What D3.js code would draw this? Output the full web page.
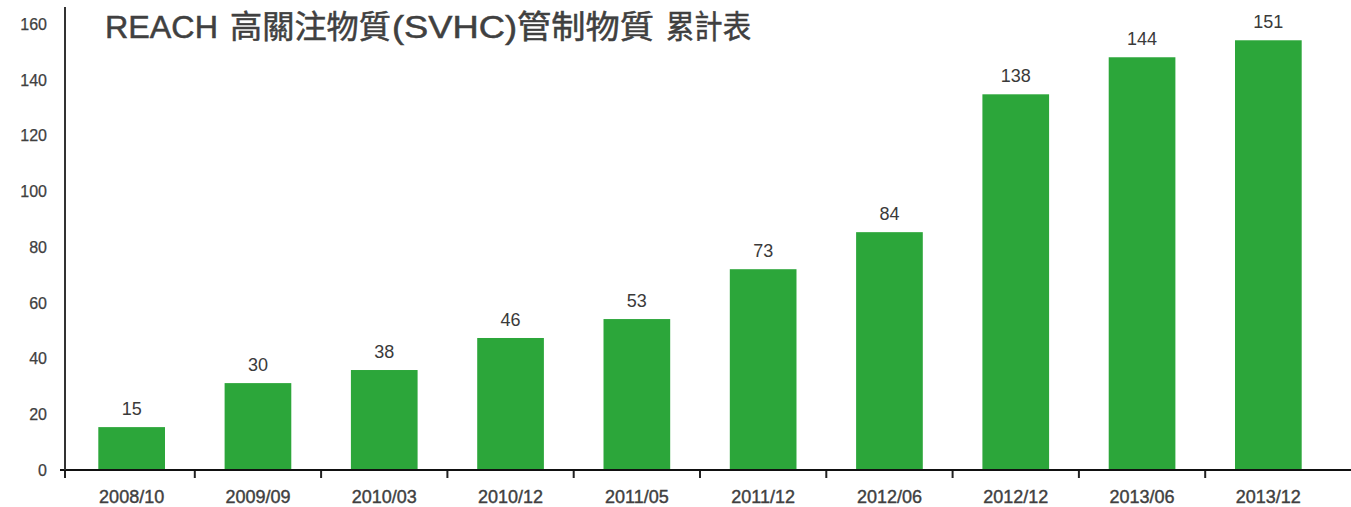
<html>
<head>
  <title>REACH SVHC</title>
  <meta charset="utf-8" />
  <script src="https://cdnjs.cloudflare.com/ajax/libs/d3/7.8.5/d3.min.js"></script>
  <style>
    body { margin: 0; background: #fff; }
    text { font-family: "Liberation Sans", Arial, "Noto Sans CJK TC", sans-serif; }
  </style>
</head>
<body>
  <svg width="1351" height="507"></svg>
<script>

  // title pieces: latin and CJK runs are set separately so their widths match
  var titleParts = ["REACH", "高關注物質", "(SVHC)", "管制物質", "累計表"];
  var titleSpans = [[105, 113], [230, 161], [392, 125], [517, 137], [666, 85]];
  var titleCJK   = [false, true, false, true, true];

  var dates  = ["2008/10", "2009/09", "2010/03", "2010/12", "2011/05",
                "2011/12", "2012/06", "2012/12", "2013/06", "2013/12"];
  // numbers printed above the bars
  var labels = [15, 30, 38, 46, 53, 73, 84, 138, 144, 151];
  // bar heights as drawn in the picture (they don't quite follow the labels)
  var bars   = [15.4, 31.2, 35.9, 47.4, 54.2, 72.1, 85.4, 134.9, 148.2, 154.3];
  var yTicks = [0, 20, 40, 60, 80, 100, 120, 140, 160];

  var svg = d3.select("svg");
  var x0 = 65, baseY = 470;

  var xScale = d3.scaleBand().domain(dates).range([68.5, 1331.5])
                 .paddingInner(0.472).paddingOuter(0.236);
  var yScale = d3.scaleLinear().domain([0, 160]).range([baseY, 24.4]);

  // bars
  svg.append("g").selectAll("rect")
    .data(dates).enter()
    .append("rect")
      .attr("x", d => xScale(d))
      .attr("width", xScale.bandwidth())
      .attr("y", (d, i) => yScale(bars[i]))
      .attr("height", (d, i) => baseY - yScale(bars[i]))
      .attr("fill", "#2ca63a");

  // value labels
  svg.append("g").selectAll("text")
    .data(dates).enter()
    .append("text")
      .attr("x", d => xScale(d) + xScale.bandwidth() / 2)
      .attr("y", (d, i) => yScale(bars[i]) - 12)
      .attr("text-anchor", "middle")
      .attr("font-size", 18)
      .attr("fill", "#3a3a3a")
      .text((d, i) => labels[i]);

  // y axis labels
  svg.append("g").selectAll("text")
    .data(yTicks).enter()
    .append("text")
      .attr("x", 47)
      .attr("y", d => yScale(d))
      .attr("dy", "0.35em")
      .attr("text-anchor", "end")
      .attr("font-size", 16)
      .attr("fill", "#404040")
      .attr("stroke", "#404040").attr("stroke-width", 0.25)
      .text(d => d);

  // x axis: line, boundary ticks, labels
  var step = xScale.step();
  var bounds = dates.map(d => xScale(d) - xScale.paddingInner() * step / 2);
  bounds[0] = x0;
  svg.append("g").selectAll("line")
    .data(bounds).enter()
    .append("line")
      .attr("x1", d => d).attr("x2", d => d)
      .attr("y1", baseY).attr("y2", baseY + 8)
      .attr("stroke", "#222").attr("stroke-width", 2);

  svg.append("g").selectAll("text")
    .data(dates).enter()
    .append("text")
      .attr("x", d => xScale(d) + xScale.bandwidth() / 2)
      .attr("y", 503)
      .attr("text-anchor", "middle")
      .attr("font-size", 18)
      .attr("fill", "#404040")
      .attr("stroke", "#404040").attr("stroke-width", 0.4)
      .text(d => d);

  svg.append("line")
    .attr("x1", 60).attr("x2", 1351)
    .attr("y1", baseY).attr("y2", baseY)
    .attr("stroke", "#111").attr("stroke-width", 2);
  svg.append("line")
    .attr("x1", x0).attr("x2", x0)
    .attr("y1", 7).attr("y2", baseY)
    .attr("stroke", "#333").attr("stroke-width", 2);

  // title
  svg.append("g").selectAll("text")
    .data(titleParts).enter()
    .append("text")
      .attr("x", (d, i) => titleSpans[i][0])
      .attr("y", 38)
      .attr("textLength", (d, i) => titleSpans[i][1])
      .attr("lengthAdjust", "spacingAndGlyphs")
      .attr("font-size", (d, i) => titleCJK[i] ? 32 : 31)
      .attr("font-family", (d, i) => titleCJK[i] ? "'Noto Sans CJK TC', sans-serif" : "'Liberation Sans', Arial, sans-serif")
      .attr("fill", "#404040")
      .attr("stroke", "#404040").attr("stroke-width", 0.5)
      .text(d => d);

</script>
</body>
</html>
